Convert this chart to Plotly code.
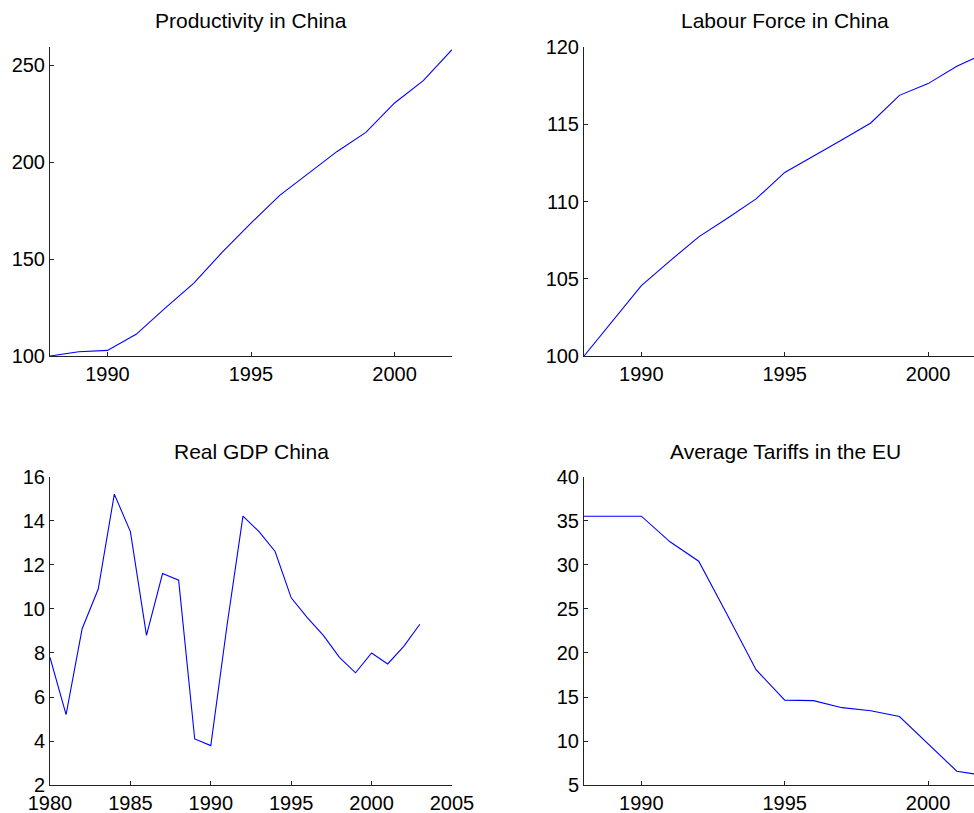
import plotly.graph_objects as go

# ---- data ----
prod_years = list(range(1988, 2003))
productivity = [100, 102.2, 102.9, 111.2, 124.6, 137.5, 153.6, 168.6, 182.9, 194.4, 205.6, 215.4, 230.6, 242.1, 258.1]

labour_years = list(range(1988, 2003))
labour_force = [100, 102.3, 104.56, 106.16, 107.71, 108.92, 110.17, 111.88, 112.92, 114.0, 115.08, 116.87, 117.63, 118.75, 119.6]

gdp_years = list(range(1980, 2004))
real_gdp = [7.8, 5.2, 9.1, 10.9, 15.2, 13.5, 8.8, 11.6, 11.3, 4.1, 3.8, 9.2, 14.2, 13.5, 12.6, 10.5, 9.6, 8.8, 7.8, 7.1, 8.0, 7.5, 8.3, 9.3]

tariff_years = list(range(1988, 2003))
tariffs = [35.5, 35.5, 35.5, 32.6, 30.4, 24.3, 18.1, 14.65, 14.6, 13.8, 13.45, 12.8, 9.75, 6.6, 6.1]

titles = ["Productivity in China", "Labour Force in China", "Real GDP China", "Average Tariffs in the EU"]

W, H = 974, 813
FONT = "Liberation Sans, Arial, Helvetica, sans-serif"
LINE = "#0000ff"
AX = "#222222"

fig = go.Figure()

def px_x(p):
    return p / W

def px_y(p):
    return 1 - p / H

left_dom = [px_x(50), px_x(452)]
right_dom = [px_x(584), 1.0]
top_dom = [px_y(356), px_y(47)]
bot_dom = [px_y(785.3), px_y(476.5)]

series = [
    (prod_years, productivity, "x", "y"),
    (labour_years, labour_force, "x2", "y2"),
    (gdp_years, real_gdp, "x3", "y3"),
    (tariff_years, tariffs, "x4", "y4"),
]
for xs, ys, xa, ya in series:
    fig.add_trace(go.Scatter(x=xs, y=ys, mode="lines", line=dict(color=LINE, width=1.1),
                             xaxis=xa, yaxis=ya, showlegend=False, hoverinfo="skip"))

common = dict(showline=True, linecolor=AX, linewidth=1, ticks="inside", ticklen=4,
              tickcolor=AX, tickwidth=1, showgrid=False, zeroline=False,
              tickfont=dict(family=FONT, size=20, color="black"), automargin=False,
              mirror=False)

fig.update_layout(
    width=W, height=H,
    margin=dict(l=0, r=0, t=0, b=0),
    paper_bgcolor="white", plot_bgcolor="white",
    xaxis=dict(domain=left_dom, anchor="y", range=[1988, 2002], tickvals=[1990, 1995, 2000], **common),
    yaxis=dict(domain=top_dom, anchor="x", range=[100, 259.5], tickvals=[100, 150, 200, 250], **common),
    xaxis2=dict(domain=right_dom, anchor="y2", range=[1988, 2001.6], tickvals=[1990, 1995, 2000], **common),
    yaxis2=dict(domain=top_dom, anchor="x2", range=[100, 120], tickvals=[100, 105, 110, 115, 120], **common),
    xaxis3=dict(domain=left_dom, anchor="y3", range=[1980, 2005], tickvals=[1980, 1985, 1990, 1995, 2000, 2005], **common),
    yaxis3=dict(domain=bot_dom, anchor="x3", range=[2, 16], tickvals=[2, 4, 6, 8, 10, 12, 14, 16], **common),
    xaxis4=dict(domain=right_dom, anchor="y4", range=[1988, 2001.6], tickvals=[1990, 1995, 2000], **common),
    yaxis4=dict(domain=bot_dom, anchor="x4", range=[5, 40], tickvals=[5, 10, 15, 20, 25, 30, 35, 40], **common),
)

title_pos = [(251, 21), (785, 21), (251, 451), (785, 451)]
for t, (cx, cy) in zip(titles, title_pos):
    fig.add_annotation(text=t, xref="paper", yref="paper", x=px_x(cx), y=px_y(cy),
                       xanchor="center", yanchor="middle", showarrow=False,
                       font=dict(family=FONT, size=21, color="black"))

fig.write_html("out.html", config={"displayModeBar": False},
               post_script="document.body.style.margin='0';document.body.style.overflow='hidden';")
